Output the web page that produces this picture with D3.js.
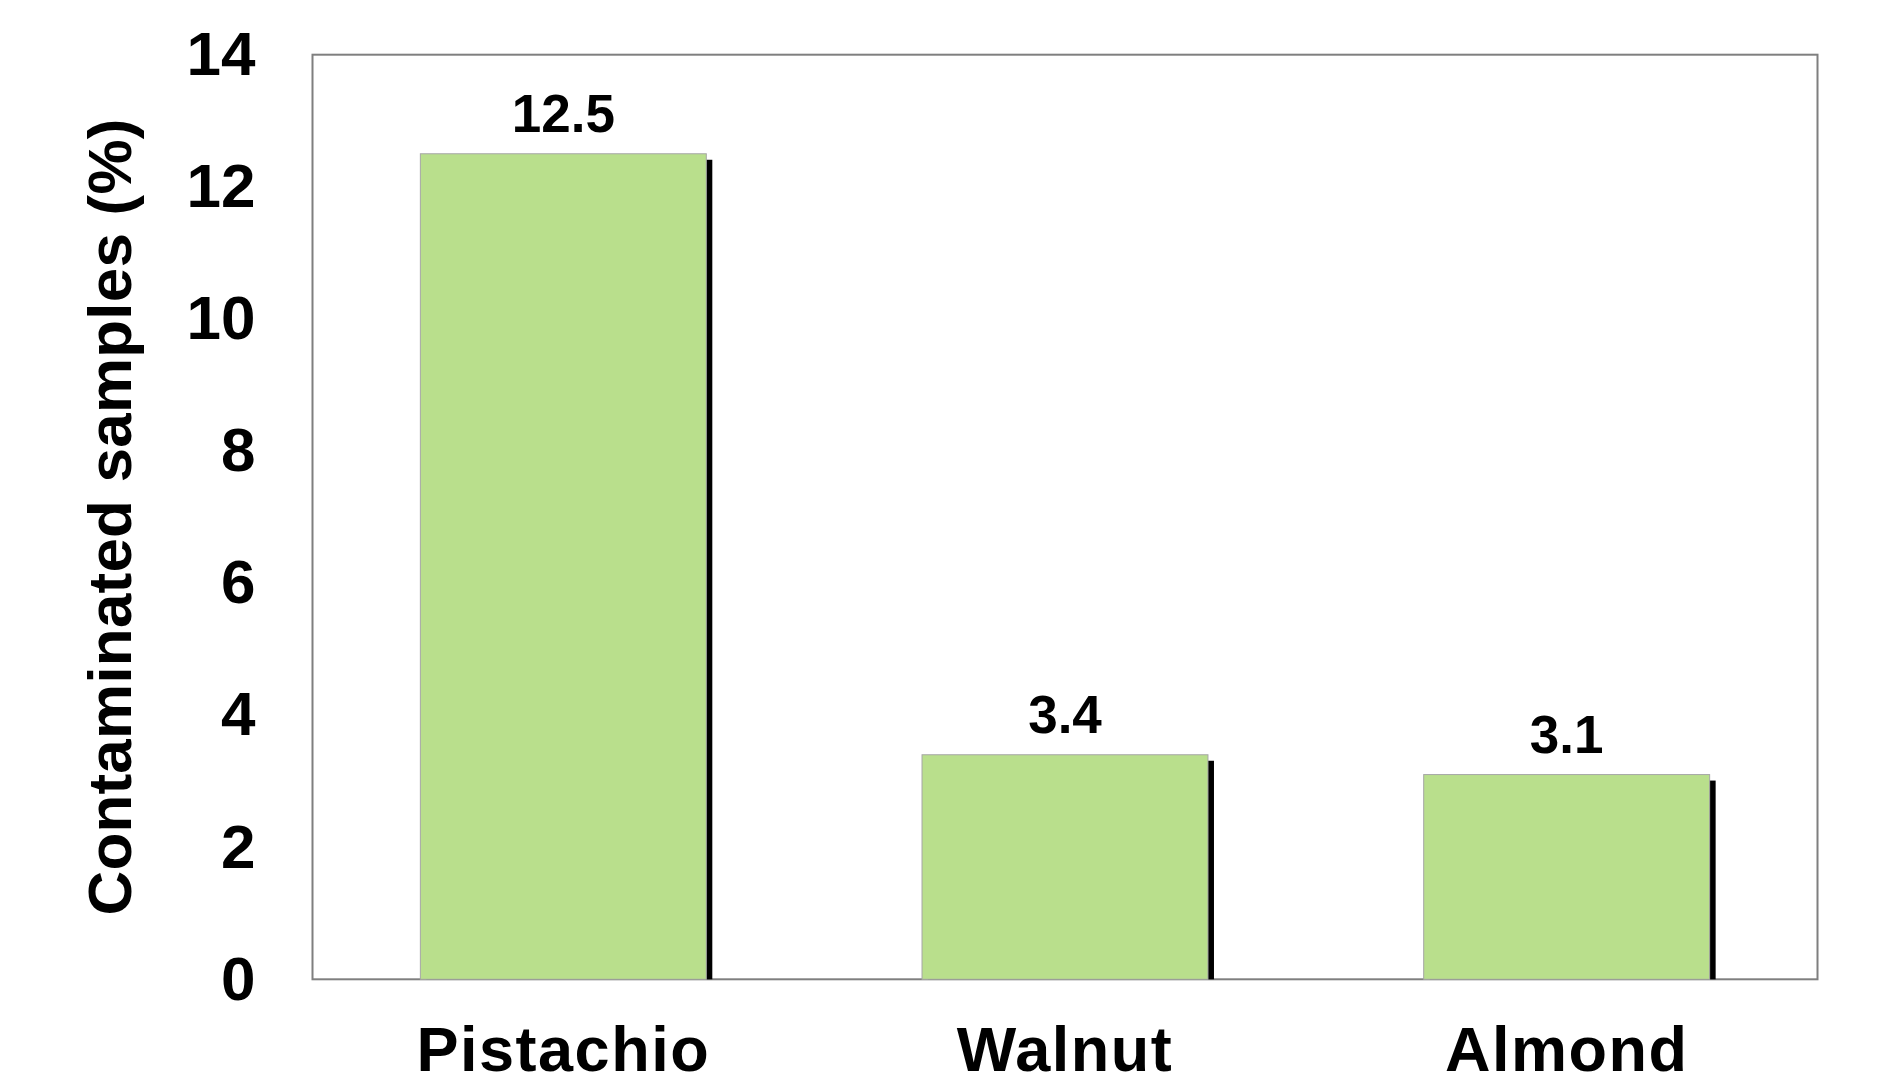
<!DOCTYPE html>
<html>
<head>
<meta charset="utf-8">
<script src="https://cdn.jsdelivr.net/npm/d3@7"></script>
<style>
  html, body { margin: 0; padding: 0; background: #fff; }
  svg { display: block; font-family: "Liberation Sans", Arial, sans-serif; font-weight: bold; }
</style>
</head>
<body>
<svg id="chart" width="1881" height="1088"></svg>
<script>
// Share of contaminated samples per nut type
const categories = ["Pistachio", "Walnut", "Almond"];
const values = [12.5, 3.4, 3.1];
const yTicks = [0, 2, 4, 6, 8, 10, 12, 14];

const W = 1881, H = 1088;
const margin = { left: 312.5, right: W - 1817.5, top: 54.7, bottom: H - 979.3 };
const innerW = W - margin.left - margin.right;
const innerH = H - margin.top - margin.bottom;

const svg = d3.select("#chart");
const g = svg.append("g").attr("transform", `translate(${margin.left},${margin.top})`);

const x = d3.scaleBand().domain(categories).range([0, innerW]).paddingInner(0.43).paddingOuter(0.215);
const y = d3.scaleLinear().domain([0, 14]).range([innerH, 0]);

// plot frame
g.append("rect")
  .attr("x", 0).attr("y", 0).attr("width", innerW).attr("height", innerH)
  .attr("fill", "#fff").attr("stroke", "#7f7f7f").attr("stroke-width", 2);

const shadowOffset = 6;

// drop shadows behind bars
g.selectAll("rect.shadow").data(values).join("rect")
  .attr("class", "shadow")
  .attr("x", (d, i) => x(categories[i]) + shadowOffset)
  .attr("y", d => y(d) + shadowOffset)
  .attr("width", x.bandwidth())
  .attr("height", d => Math.max(0, y(0) - y(d) - shadowOffset))
  .attr("fill", "#000");

// bars
g.selectAll("rect.bar").data(values).join("rect")
  .attr("class", "bar")
  .attr("x", (d, i) => x(categories[i]))
  .attr("y", d => y(d))
  .attr("width", x.bandwidth())
  .attr("height", d => y(0) - y(d))
  .attr("fill", "#b9df8c")
  .attr("stroke", "#a6a6a6").attr("stroke-width", 1);

// value labels
g.selectAll("text.val").data(values).join("text")
  .attr("class", "val")
  .attr("x", (d, i) => x(categories[i]) + x.bandwidth() / 2)
  .attr("y", d => y(d) - 22)
  .attr("text-anchor", "middle")
  .attr("font-size", 53)
  .attr("fill", "#000")
  .text(d => d.toFixed(1));

// y axis (labels only)
const yAxis = d3.axisLeft(y).tickValues(yTicks).tickSize(0).tickPadding(57).tickFormat(d3.format("d"));
const ya = g.append("g").call(yAxis);
ya.select(".domain").remove();
ya.selectAll("text").attr("font-size", 62).attr("fill", "#000")
  .attr("font-family", "Liberation Sans, Arial, sans-serif").attr("font-weight", "bold");

// x axis (labels only)
const xAxis = d3.axisBottom(x).tickSize(0).tickPadding(0);
const xa = g.append("g").attr("transform", `translate(0,${innerH})`).call(xAxis);
xa.select(".domain").remove();
xa.selectAll("text").attr("font-size", 63).attr("fill", "#000")
  .attr("font-family", "Liberation Sans, Arial, sans-serif").attr("font-weight", "bold")
  .attr("letter-spacing", 1.5)
  .attr("dy", null).attr("y", 92);

// y axis title
svg.append("text")
  .attr("transform", `translate(131,${margin.top + innerH / 2}) rotate(-90)`)
  .attr("text-anchor", "middle")
  .attr("font-size", 62)
  .attr("letter-spacing", 0.2)
  .attr("fill", "#000")
  .text("Contaminated samples (%)");
</script>
</body>
</html>
